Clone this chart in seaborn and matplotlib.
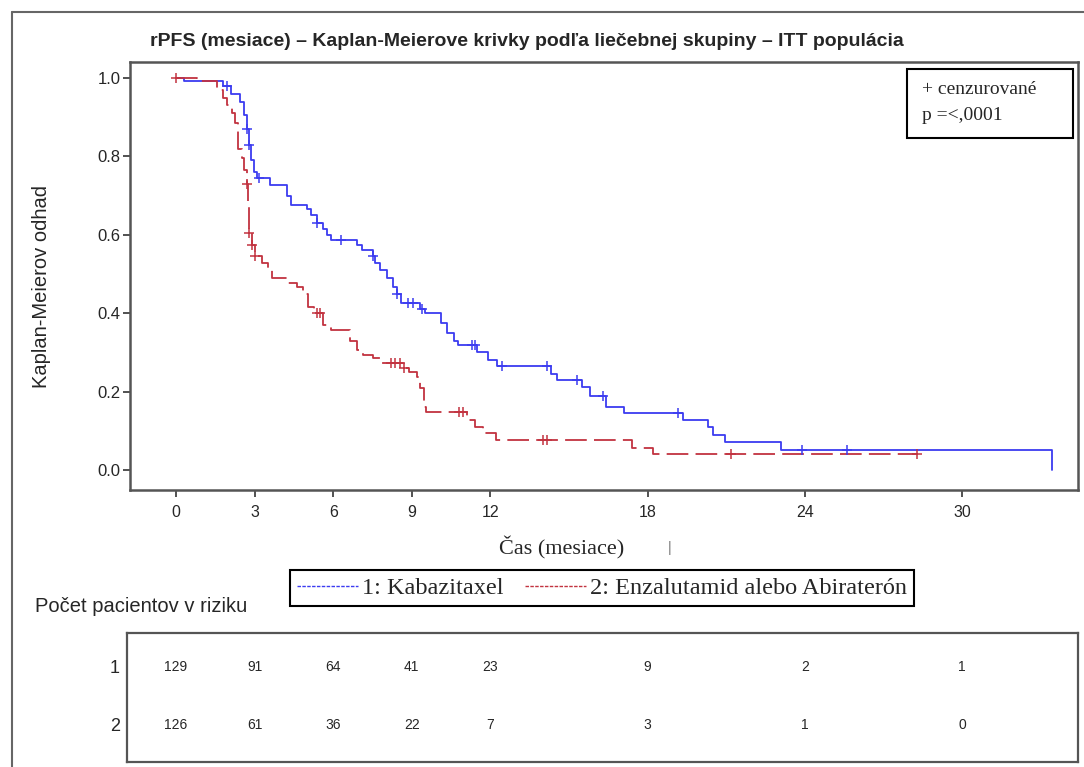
import numpy as np
import pandas as pd
import matplotlib
matplotlib.use("Agg")
import matplotlib.pyplot as plt
import seaborn as sns
from matplotlib.lines import Line2D
from matplotlib.patches import Rectangle

# ---------------- data ----------------
title = "rPFS (mesiace) – Kaplan-Meierove krivky podľa liečebnej skupiny – ITT populácia"
group_labels = ["1: Kabazitaxel", "2: Enzalutamid alebo Abiraterón"]

# group 1 (Kabazitaxel): step times and survival after the step
kab_t = [0, 0.3, 1.8, 2.1, 2.45, 2.6, 2.7, 2.8, 2.85, 2.98, 3.1, 3.6, 4.25, 4.4,
         5.0, 5.15, 5.4, 5.6, 5.75, 5.9, 6.9, 7.1, 7.5, 7.6, 7.8, 8.05, 8.3, 8.45,
         8.6, 9.3, 9.5, 10.1, 10.35, 10.6, 10.75, 11.5, 11.9, 12.25, 14.3, 14.55,
         15.5, 15.8, 16.4, 17.1, 19.35, 20.3, 20.5, 20.95, 23.1, 33.45]
kab_s = [1.0, 0.992, 0.98, 0.96, 0.94, 0.905, 0.87, 0.83, 0.79, 0.76, 0.745, 0.727,
         0.70, 0.676, 0.665, 0.65, 0.63, 0.615, 0.60, 0.587, 0.574, 0.56, 0.545,
         0.528, 0.51, 0.49, 0.467, 0.45, 0.425, 0.41, 0.40, 0.375, 0.35, 0.33, 0.32,
         0.30, 0.28, 0.265, 0.245, 0.23, 0.212, 0.19, 0.16, 0.145, 0.128, 0.11, 0.09,
         0.072, 0.051, 0.0]
kab_cens = [1.95, 2.7, 2.8, 3.15, 5.4, 6.3, 7.5, 8.45, 8.85, 9.05, 9.4, 11.3, 11.4,
            12.45, 14.15, 15.3, 16.3, 19.15, 23.9, 25.6]

# group 2 (Enzalutamid alebo Abirateron)
enz_t = [0, 0.8, 1.55, 1.8, 1.95, 2.15, 2.25, 2.37, 2.5, 2.6, 2.7, 2.75, 2.78, 2.8,
         2.9, 3.0, 3.3, 3.5, 3.65, 4.25, 4.6, 4.85, 5.05, 5.25, 5.6, 5.9, 6.65, 6.9,
         7.15, 7.5, 7.8, 8.7, 8.9, 9.2, 9.3, 9.45, 9.55, 11.1, 11.4, 11.7, 12.2,
         17.4, 18.2]
enz_s = [1.0, 0.992, 0.97, 0.95, 0.93, 0.91, 0.885, 0.82, 0.795, 0.765, 0.73, 0.68,
         0.655, 0.605, 0.575, 0.545, 0.527, 0.51, 0.49, 0.477, 0.467, 0.45, 0.416,
         0.40, 0.37, 0.357, 0.33, 0.306, 0.293, 0.285, 0.273, 0.26, 0.25, 0.237,
         0.21, 0.16, 0.148, 0.128, 0.11, 0.094, 0.077, 0.056, 0.04]
enz_end = 28.3
enz_cens = [0.0, 2.7, 2.8, 2.9, 3.0, 5.4, 5.5, 8.2, 8.35, 8.55, 8.7, 10.8, 10.95,
            14.0, 14.15, 21.2, 28.3]

# at-risk table
risk_times = [0, 3, 6, 9, 12, 18, 24, 30]
risk_kab = [129, 91, 64, 41, 23, 9, 2, 1]
risk_enz = [126, 61, 36, 22, 7, 3, 1, 0]

xticks = [0, 3, 6, 9, 12, 18, 24, 30]
yticks = [0.0, 0.2, 0.4, 0.6, 0.8, 1.0]

# ---------------- style ----------------
sns.set_style("ticks")
plt.rcParams["font.family"] = ["Liberation Sans", "DejaVu Sans"]

BLUE = "#3c3cf0"
RED = "#c23340"
FRAME = "#555555"
SERIF = ["Liberation Serif", "DejaVu Serif"]

W, H = 1084, 767
fig = plt.figure(figsize=(W / 100, H / 100), dpi=100)


def fx(px):
    return px / W


def fy(py):
    return 1 - py / H


# main axes
ax = fig.add_axes([fx(130), fy(490), fx(1078) - fx(130), fy(62) - fy(490)])


def step_value(times, surv, t):
    idx = np.searchsorted(np.asarray(times), t, side="right") - 1
    return np.asarray(surv)[idx]


df_kab = pd.DataFrame({"t": kab_t, "s": kab_s})
df_enz = pd.DataFrame({"t": enz_t + [enz_end], "s": enz_s + [enz_s[-1]]})

sns.lineplot(data=df_kab, x="t", y="s", drawstyle="steps-post", color=BLUE,
             linewidth=1.3, estimator=None, sort=False, ax=ax)
sns.lineplot(data=df_enz, x="t", y="s", drawstyle="steps-post", color=RED,
             linewidth=1.3, linestyle=(0, (12, 4)), estimator=None, sort=False, ax=ax)

sns.scatterplot(x=kab_cens, y=step_value(kab_t, kab_s, kab_cens), marker="+",
                color=BLUE, s=55, linewidth=1.1, ax=ax, legend=False, zorder=4)
sns.scatterplot(x=enz_cens, y=step_value(enz_t, enz_s, enz_cens), marker="+",
                color=RED, s=55, linewidth=1.1, ax=ax, legend=False, zorder=4)

ax.set_xlim((130 - 176) / 26.2, (1078 - 176) / 26.2)
ax.set_ylim((470 - 490) / 392, (470 - 62) / 392)
ax.set_xticks(xticks)
ax.set_xticklabels([str(v) for v in xticks], fontsize=11.5)
ax.set_yticks(yticks)
ax.set_yticklabels([f"{v:.1f}" for v in yticks], fontsize=12)
ax.tick_params(axis="both", direction="out", length=5, width=1.2, color="#333333")
ax.tick_params(axis="x", pad=6)
ax.tick_params(axis="y", pad=2)
for sp in ax.spines.values():
    sp.set_visible(True)
    sp.set_color(FRAME)
    sp.set_linewidth(1.8)

ax.set_xlabel("Čas (mesiace)", fontsize=16, family=SERIF)
ax.xaxis.set_label_coords((562 - 130) / 948, (490 - 536) / 428)
ax.set_ylabel("Kaplan-Meierov odhad", fontsize=14.5)
ax.yaxis.set_label_coords((51 - 130) / 948, (490 - 287) / 428)

# title
fig.text(fx(527), fy(42), title, ha="center", va="center", fontsize=14,
         fontweight="bold")

# censor / p-value box
fig.patches.append(Rectangle((fx(907), fy(138)), fx(1073) - fx(907), fy(69) - fy(138),
                             transform=fig.transFigure, fill=True, facecolor="white",
                             edgecolor="black", linewidth=1.5, zorder=5))
fig.text(fx(922), fy(90), "+ cenzurované", fontsize=14, va="center", ha="left",
         family=SERIF, zorder=6)
fig.text(fx(922), fy(116), "p =<,0001", fontsize=14, va="center", ha="left",
         family=SERIF, zorder=6)

# small cursor artefact
fig.text(fx(670), fy(548), "|", fontsize=10, color="#777777", ha="center", va="center")

# legend
handles = [Line2D([0], [0], color=BLUE, lw=1.0, linestyle=(0, (2.5, 1))),
           Line2D([0], [0], color=RED, lw=1.0, linestyle=(0, (2.5, 1)))]
leg = fig.legend(handles, group_labels, loc="center",
                 bbox_to_anchor=(fx(602), fy(588)), ncol=2, frameon=True,
                 fancybox=False, edgecolor="black", framealpha=1,
                 prop={"family": SERIF, "size": 17.5},
                 handlelength=2.5, handletextpad=0.15, columnspacing=0.9,
                 borderpad=0.3, borderaxespad=0)
leg.get_frame().set_linewidth(1.5)

fig.text(fx(35), fy(607), "Počet pacientov v riziku", fontsize=14.5, ha="left",
         va="center")

# at-risk table
rax = fig.add_axes([fx(127), fy(762), fx(1078) - fx(127), fy(633) - fy(762)])
rax.set_xlim((127 - 176) / 26.2, (1078 - 176) / 26.2)
rax.set_ylim(2.64, 0.42)
for t, n1, n2 in zip(risk_times, risk_kab, risk_enz):
    rax.text(t, 1, str(n1), ha="center", va="center", fontsize=10)
    rax.text(t, 2, str(n2), ha="center", va="center", fontsize=10)
rax.set_xticks([])
rax.set_yticks([1, 2])
rax.set_yticklabels(["1", "2"], fontsize=13)
rax.tick_params(axis="y", length=0, pad=5)
for sp in rax.spines.values():
    sp.set_visible(True)
    sp.set_color(FRAME)
    sp.set_linewidth(1.6)

# outer border of the embedded figure
fig.add_artist(Line2D([fx(12), fx(12)], [0, fy(12)], color="#666666", lw=1.5))
fig.add_artist(Line2D([fx(12), 1], [fy(12), fy(12)], color="#666666", lw=1.5))

fig.savefig("out.png", dpi=100, facecolor="white")
